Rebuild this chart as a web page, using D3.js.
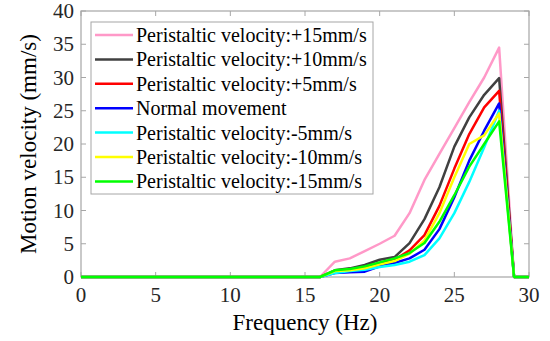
<!DOCTYPE html>
<html>
<head>
<meta charset="utf-8">
<script src="https://cdn.jsdelivr.net/npm/d3@7"></script>
<style>
  body { margin: 0; background: #fff; }
  svg text { font-family: Liberation Serif, Tinos, DejaVu Serif, Times New Roman, Times, serif; }
</style>
</head>
<body>
<div id="chart"></div>
<script>
// frequencies (Hz)
const freq = d3.range(0, 31);

// motion velocity (mm/s) for each series, one value per Hz
const zeros16 = new Array(17).fill(0);
const plus15  = zeros16.concat([2.3, 2.8, 3.9, 5.0, 6.2, 9.6, 14.6, 18.5, 22.4, 26.3, 30.0, 34.5, 0, 0]);
const plus10  = zeros16.concat([1.0, 1.3, 1.8, 2.6, 3.0, 5.1, 8.7, 13.5, 19.6, 24.0, 27.4, 29.9, 0, 0]);
const plus5   = zeros16.concat([0.8, 1.0, 1.3, 2.0, 2.6, 4.0, 6.3, 10.7, 16.3, 21.5, 25.5, 28.0, 0, 0]);
const normal  = zeros16.concat([0.6, 0.7, 0.8, 1.6, 2.1, 2.8, 4.1, 7.2, 12.0, 17.5, 22.0, 26.1, 0, 0]);
const minus5  = zeros16.concat([0.6, 0.9, 1.1, 1.5, 1.8, 2.3, 3.3, 5.8, 9.6, 14.3, 19.5, 25.0, 0, 0]);
const minus10 = zeros16.concat([0.9, 1.0, 1.3, 1.9, 2.4, 3.5, 5.5, 9.6, 15.0, 20.0, 21.3, 24.6, 0, 0]);
const minus15 = zeros16.concat([1.0, 1.2, 1.6, 2.2, 2.8, 3.6, 5.1, 8.3, 12.3, 16.6, 20.0, 23.4, 0, 0]);

const labels = [
  "Peristaltic velocity:+15mm/s",
  "Peristaltic velocity:+10mm/s",
  "Peristaltic velocity:+5mm/s",
  "Normal movement",
  "Peristaltic velocity:-5mm/s",
  "Peristaltic velocity:-10mm/s",
  "Peristaltic velocity:-15mm/s"
];
const values = [plus15, plus10, plus5, normal, minus5, minus10, minus15];
const colors = ["#ff99c8", "#404040", "#ff0000", "#0000ff", "#00ffff", "#ffff00", "#00ff00"];

const xTicks = [0, 5, 10, 15, 20, 25, 30];
const yTicks = [0, 5, 10, 15, 20, 25, 30, 35, 40];

const width = 550, height = 341;
const svg = d3.select("#chart").append("svg")
  .attr("width", width)
  .attr("height", height);

const x = d3.scaleLinear().domain([0, 30]).range([81, 529]);
const y = d3.scaleLinear().domain([0, 40]).range([277, 11]);

const axisColor = "#a6a6a6";
const labelColor = "#262626";

// box
svg.append("rect")
  .attr("x", x(0)).attr("y", y(40))
  .attr("width", x(30) - x(0)).attr("height", y(0) - y(40))
  .attr("fill", "none").attr("stroke", axisColor).attr("stroke-width", 1.2);

// ticks (inward, on all four sides)
const tk = 5;
xTicks.forEach(t => {
  svg.append("line").attr("x1", x(t)).attr("x2", x(t)).attr("y1", y(0)).attr("y2", y(0) - tk)
    .attr("stroke", axisColor);
  svg.append("line").attr("x1", x(t)).attr("x2", x(t)).attr("y1", y(40)).attr("y2", y(40) + tk)
    .attr("stroke", axisColor);
  svg.append("text").attr("x", x(t)).attr("y", y(0) + 25)
    .attr("text-anchor", "middle").attr("font-size", 21).attr("fill", labelColor)
    .text(t);
});
yTicks.forEach(t => {
  svg.append("line").attr("x1", x(0)).attr("x2", x(0) + tk).attr("y1", y(t)).attr("y2", y(t))
    .attr("stroke", axisColor);
  svg.append("line").attr("x1", x(30)).attr("x2", x(30) - tk).attr("y1", y(t)).attr("y2", y(t))
    .attr("stroke", axisColor);
  svg.append("text").attr("x", x(0) - 7).attr("y", y(t) + 7)
    .attr("text-anchor", "end").attr("font-size", 21).attr("fill", labelColor)
    .text(t);
});

// axis titles
svg.append("text").attr("x", (x(0) + x(30)) / 2).attr("y", 330)
  .attr("text-anchor", "middle").attr("font-size", 23).attr("fill", "#000")
  .text("Frequency (Hz)");
svg.append("text")
  .attr("transform", `translate(36,${(y(0) + y(40)) / 2}) rotate(-90)`)
  .attr("text-anchor", "middle").attr("font-size", 23).attr("fill", "#000")
  .text("Motion velocity (mm/s)");

// lines
const line = d3.line().x((d, i) => x(freq[i])).y(d => y(d));
values.forEach((v, i) => {
  svg.append("path").datum(v)
    .attr("d", line)
    .attr("fill", "none")
    .attr("stroke", colors[i])
    .attr("stroke-width", 2.5)
    .attr("stroke-linejoin", "round");
});

// legend
const lg = svg.append("g");
lg.append("rect")
  .attr("x", 91).attr("y", 22).attr("width", 282).attr("height", 172)
  .attr("fill", "#fff").attr("stroke", axisColor).attr("stroke-width", 1);
labels.forEach((l, i) => {
  const cy = 35 + i * 24.4;
  lg.append("line").attr("x1", 95).attr("x2", 133).attr("y1", cy).attr("y2", cy)
    .attr("stroke", colors[i]).attr("stroke-width", 2.5);
  lg.append("text").attr("x", 136).attr("y", cy + 7)
    .attr("font-size", 20).attr("fill", "#000")
    .text(l);
});
</script>
</body>
</html>
